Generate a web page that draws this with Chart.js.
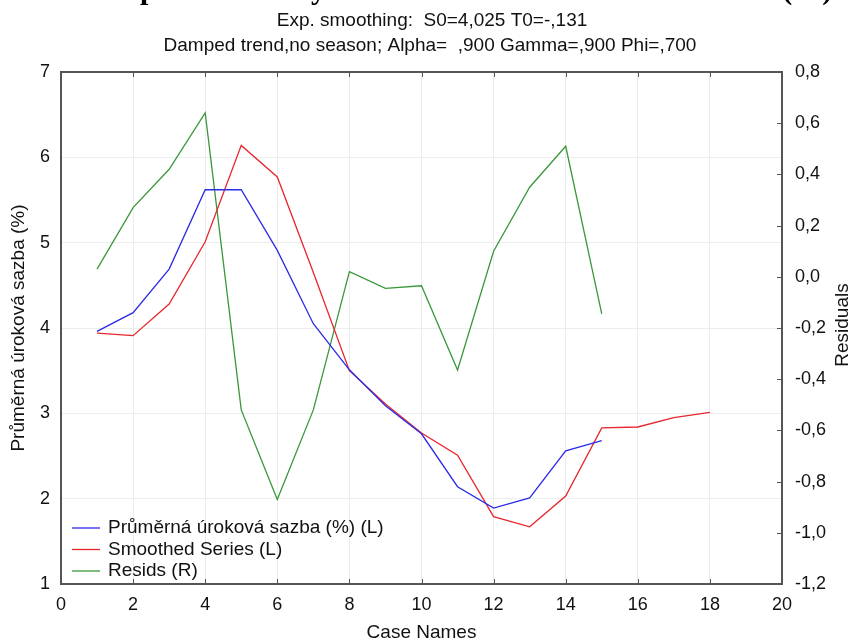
<!DOCTYPE html>
<html>
<head>
<meta charset="utf-8">
<script src="https://cdn.jsdelivr.net/npm/chart.js@4.4.1/dist/chart.umd.min.js"></script>
<style>
  html, body { margin: 0; padding: 0; background: #fff; }
  #wrap { width: 855px; height: 643px; }
</style>
</head>
<body>
<div id="wrap"><canvas id="chart"></canvas></div>
<script>
const caseNames = [1, 2, 3, 4, 5, 6, 7, 8, 9, 10, 11, 12, 13, 14, 15, 16, 17, 18]
const rateValues = [3.96, 4.18, 4.69, 5.62, 5.62, 4.91, 4.05, 3.51, 3.09, 2.76, 2.14, 1.89, 2.01, 2.56, 2.68]
const smoothedValues = [3.94, 3.91, 4.28, 5.01, 6.14, 5.77, 4.65, 3.5, 3.11, 2.77, 2.51, 1.79, 1.67, 2.03, 2.83, 2.84, 2.95, 3.01]
const residValues = [0.03, 0.27, 0.42, 0.64, -0.52, -0.87, -0.52, 0.02, -0.045, -0.035, -0.364, 0.1, 0.35, 0.51, -0.145]

const seriesLabels = ['Průměrná úroková sazba (%) (L)', 'Smoothed Series (L)', 'Resids (R)']
const seriesColors = ['#2b2be6', '#e8262e', '#3a983a']

const mainTitle = 'Exponenciální vyrovnání - Průměrná úroková sazba (%)'
const subTitles = ['Exp. smoothing:  S0=4,025 T0=-,131', 'Damped trend,no season; Alpha=  ,900 Gamma=,900 Phi=,700']
const xTitle = 'Case Names'
const leftTitle = 'Průměrná úroková sazba (%)'
const rightTitle = 'Residuals'

const FONT = 'Arial, "Liberation Sans", sans-serif'

const pts = vals => vals.map((v, i) => ({ x: caseNames[i], y: v }))

// titles, frame, inner tick marks, axis titles and legend
const decor = {
  id: 'decor',
  afterDraw(chart) {
    const { ctx, chartArea: a, scales } = chart
    ctx.save()

    // big title, cut off at the top edge (only descenders show)
    ctx.fillStyle = '#000'
    ctx.font = 'bold 30px "Liberation Serif", serif'
    ctx.textAlign = 'left'
    ctx.textBaseline = 'alphabetic'
    ctx.fillText(mainTitle, 105, -1)

    ctx.font = '19px ' + FONT
    ctx.textAlign = 'center'
    ctx.textBaseline = 'middle'
    ctx.fillStyle = '#111'
    ctx.fillText(subTitles[0], 432, 21)
    ctx.fillText(subTitles[1], 430, 46)

    // frame
    ctx.strokeStyle = '#555'
    ctx.lineWidth = 2
    ctx.strokeRect(a.left, a.top, a.right - a.left, a.bottom - a.top)

    // inward tick marks
    ctx.lineWidth = 1
    ctx.beginPath()
    scales.x.ticks.forEach(t => {
      const px = Math.round(scales.x.getPixelForValue(t.value)) + 0.5
      ctx.moveTo(px, a.bottom); ctx.lineTo(px, a.bottom - 5)
      ctx.moveTo(px, a.top); ctx.lineTo(px, a.top + 5)
    })
    scales.y1.ticks.forEach(t => {
      const py = Math.round(scales.y1.getPixelForValue(t.value)) + 0.5
      ctx.moveTo(a.right, py); ctx.lineTo(a.right - 5, py)
    })
    ctx.stroke()

    // axis titles
    ctx.fillStyle = '#111'
    ctx.font = '19px ' + FONT
    ctx.textAlign = 'center'
    ctx.textBaseline = 'middle'
    ctx.fillText(xTitle, (a.left + a.right) / 2, 633)

    ctx.save()
    ctx.translate(19, (a.top + a.bottom) / 2)
    ctx.rotate(-Math.PI / 2)
    ctx.fillText(leftTitle, 0, 0)
    ctx.restore()

    ctx.save()
    ctx.translate(843, 325)
    ctx.rotate(-Math.PI / 2)
    ctx.fillText(rightTitle, 0, 0)
    ctx.restore()

    // legend inside the plot, bottom left
    ctx.font = '19px ' + FONT
    ctx.textAlign = 'left'
    chart.data.datasets.forEach((ds, i) => {
      const y = 528 + i * 21.5
      ctx.strokeStyle = ds.borderColor
      ctx.lineWidth = 1.3
      ctx.beginPath()
      ctx.moveTo(72, y); ctx.lineTo(100, y)
      ctx.stroke()
      ctx.fillStyle = '#111'
      ctx.fillText(ds.label, 108, y)
    })

    ctx.restore()
  }
}

new Chart(document.getElementById('chart'), {
  type: 'line',
  data: {
    datasets: [
      { label: seriesLabels[0], data: pts(rateValues), yAxisID: 'y', borderColor: seriesColors[0] },
      { label: seriesLabels[1], data: pts(smoothedValues), yAxisID: 'y', borderColor: seriesColors[1] },
      { label: seriesLabels[2], data: pts(residValues), yAxisID: 'y1', borderColor: seriesColors[2] },
    ],
  },
  options: {
    responsive: true,
    maintainAspectRatio: false,
    animation: false,
    layout: { padding: { top: 72, left: 0, right: 0, bottom: 0 } },
    elements: {
      line: { borderWidth: 1.3, tension: 0, fill: false },
      point: { radius: 0 },
    },
    plugins: {
      legend: { display: false },
      tooltip: { enabled: false },
    },
    scales: {
      x: {
        type: 'linear',
        min: 0,
        max: 20,
        ticks: { stepSize: 2, color: '#111', font: { family: FONT, size: 18 }, padding: 10, maxRotation: 0 },
        grid: { color: '#ededed', drawTicks: false },
        border: { display: false },
        afterFit: s => { s.height = 59 },
      },
      y: {
        position: 'left',
        min: 1,
        max: 7,
        ticks: { stepSize: 1, color: '#111', font: { family: FONT, size: 18 }, padding: 11 },
        grid: { color: '#ededed', drawTicks: false },
        border: { display: false },
        afterFit: s => { s.width = 61 },
      },
      y1: {
        position: 'right',
        min: -1.2,
        max: 0.8,
        ticks: {
          stepSize: 0.2,
          color: '#111',
          font: { family: FONT, size: 18 },
          padding: 13,
          callback: v => v.toFixed(1).replace('.', ','),
        },
        grid: { display: false, drawTicks: false },
        border: { display: false },
        afterFit: s => { s.width = 73 },
      },
    },
  },
  plugins: [decor],
})
</script>
</body>
</html>
